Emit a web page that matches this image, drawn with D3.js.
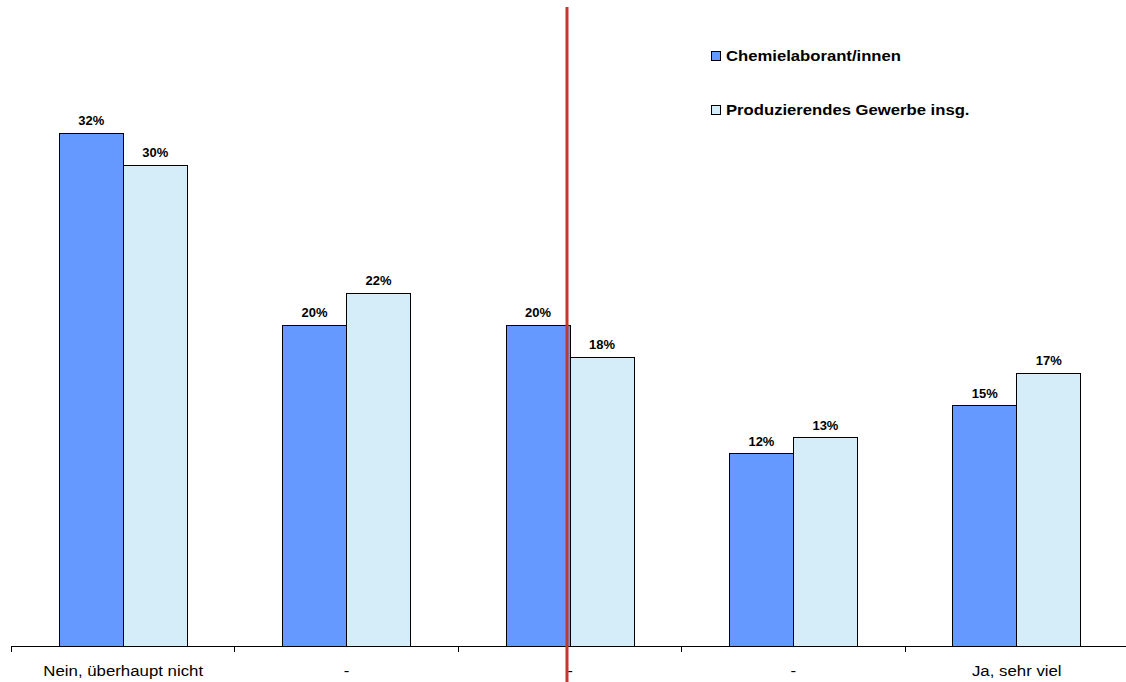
<!DOCTYPE html>
<html>
<head>
<meta charset="utf-8">
<script src="https://cdn.jsdelivr.net/npm/d3@7"></script>
<style>
  html, body { margin: 0; padding: 0; background: #fff; }
  svg { display: block; font-family: "Liberation Sans", Arial, sans-serif; }
</style>
</head>
<body>
<svg id="chart" width="1126" height="682"></svg>
<script>
// Answer categories (5-point scale)
const categories = ["Nein, überhaupt nicht", "-", "-", "-", "Ja, sehr viel"];
// Shares in percent
const chemielaboranten = [32, 20, 20, 12, 15];
const produzierendesGewerbe = [30, 22, 18, 13, 17];
const seriesNames = ["Chemielaborant/innen", "Produzierendes Gewerbe insg."];
const seriesColors = ["#6699ff", "#d5edf9"];

const svg = d3.select("#chart");
const W = 1126, H = 682;
const plot = { left: 11.5, right: 11.5 + 5 * 223.4, bottom: 646 };

// Widen glyph runs slightly, keeping them as real text
function stretch(sel, factor) {
  sel.each(function () {
    const len = this.getComputedTextLength();
    if (len > 0) {
      d3.select(this).attr("textLength", len * factor).attr("lengthAdjust", "spacingAndGlyphs");
    }
  });
}

const x0 = d3.scaleBand().domain(d3.range(categories.length))
  .range([plot.left, plot.right]).paddingInner(0).paddingOuter(0);
const groupFrac = 128 / 223.4;
const x1 = d3.scaleBand().domain([0, 1])
  .range([0, x0.bandwidth() * groupFrac]).padding(0);
const y = d3.scaleLinear().domain([0, 40]).range([plot.bottom, plot.bottom - 16.03 * 40]);

const series = [chemielaboranten, produzierendesGewerbe];
const offset = (x0.bandwidth() - x0.bandwidth() * groupFrac) / 2;

// Bars with value labels
series.forEach((vals, s) => {
  const g = svg.append("g");
  g.selectAll("rect").data(vals).join("rect")
    .attr("x", (d, i) => x0(i) + offset + x1(s))
    .attr("y", d => y(d))
    .attr("width", x1.bandwidth())
    .attr("height", d => y(0) - y(d))
    .attr("fill", seriesColors[s])
    .attr("stroke", "#000")
    .attr("stroke-width", 1)
    .attr("shape-rendering", "crispEdges");
  const labels = g.selectAll("text").data(vals).join("text")
    .attr("x", (d, i) => x0(i) + offset + x1(s) + x1.bandwidth() / 2)
    .attr("y", d => y(d) - 8)
    .attr("text-anchor", "middle")
    .attr("font-size", 12)
    .attr("font-weight", "bold")
    .attr("fill", "#000")
    .text(d => d + "%");
  stretch(labels, 1.08);
});

// Category axis
const ax = svg.append("g").attr("transform", `translate(0,${plot.bottom})`);
ax.append("line")
  .attr("x1", Math.round(plot.left)).attr("x2", W)
  .attr("y1", 0.5).attr("y2", 0.5)
  .attr("stroke", "#000");
const tickPos = d3.range(categories.length).map(i => x0(i)).concat([plot.right]);
ax.selectAll("line.tick").data(tickPos).join("line")
  .attr("class", "tick")
  .attr("x1", d => Math.floor(d) + 0.5).attr("x2", d => Math.floor(d) + 0.5)
  .attr("y1", 0).attr("y2", 6)
  .attr("stroke", "#000");
const catLabels = ax.selectAll("text").data(categories).join("text")
  .attr("x", (d, i) => x0(i) + x0.bandwidth() / 2)
  .attr("y", 30)
  .attr("text-anchor", "middle")
  .attr("font-size", 14)
  .attr("fill", "#000")
  .text(d => d);
stretch(catLabels, 1.2);

// Vertical marker through the middle category
const midX = x0(2) + x0.bandwidth() / 2 - 3;
svg.append("line")
  .attr("x1", midX).attr("x2", midX)
  .attr("y1", 7).attr("y2", H)
  .attr("stroke", "#c0392b")
  .attr("stroke-width", 3);

// Legend
const legend = svg.append("g").attr("transform", "translate(711,51)");
seriesNames.forEach((name, s) => {
  const row = legend.append("g").attr("transform", `translate(0,${s * 54})`);
  row.append("rect")
    .attr("x", 0.5).attr("y", 0.5).attr("width", 9).attr("height", 9)
    .attr("fill", seriesColors[s]).attr("stroke", "#000")
    .attr("shape-rendering", "crispEdges");
  const t = row.append("text")
    .attr("x", 15).attr("y", 10)
    .attr("font-size", 14).attr("font-weight", "bold")
    .attr("fill", "#000")
    .text(name);
  stretch(t, 1.19);
});
</script>
</body>
</html>
